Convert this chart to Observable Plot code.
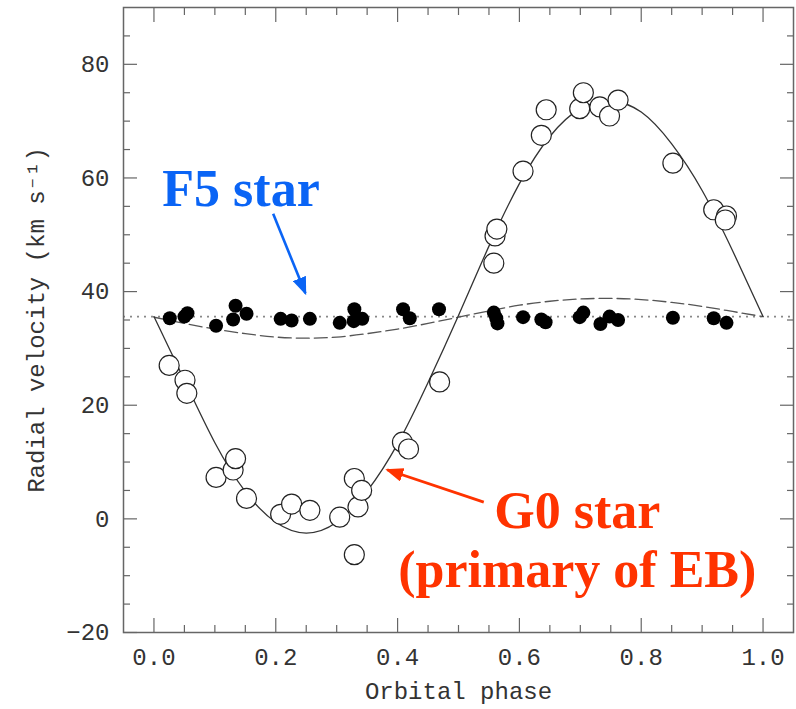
<!DOCTYPE html>
<html><head><meta charset="utf-8">
<script src="https://cdn.jsdelivr.net/npm/d3@7"></script>
<script src="https://cdn.jsdelivr.net/npm/@observablehq/plot@0.6"></script>
<style>html,body{margin:0;padding:0;background:#fff}#chart svg{display:block}</style>
</head><body><div id="chart"></div>
<script>
// ---- Data ----
// G0 star (primary of EB): open circles
const g0Phase = [0.025,0.051,0.054,0.102,0.130,0.134,0.152,0.208,0.226,0.256,0.305,0.329,0.335,0.341,0.329,0.408,0.418,0.469,0.558,0.560,0.563,0.606,0.636,0.644,0.699,0.705,0.732,0.748,0.762,0.852,0.919,0.940,0.938];
const g0Vel   = [27.0,24.4,22.1,7.3,8.6,10.6,3.6,0.8,2.6,1.5,0.3,7.1,2.1,5.0,-6.3,13.5,12.3,24.1,45.0,49.8,51.0,61.2,67.5,72.0,72.2,75.0,72.5,70.9,73.7,62.6,54.4,53.3,52.6];
// F5 star: filled dots
const f5Phase = [0.026,0.050,0.055,0.102,0.130,0.134,0.152,0.208,0.226,0.256,0.305,0.329,0.328,0.342,0.409,0.420,0.468,0.558,0.562,0.564,0.606,0.636,0.643,0.699,0.705,0.733,0.748,0.762,0.852,0.919,0.940];
const f5Vel   = [35.3,35.6,36.2,34.0,35.1,37.5,36.1,35.2,34.9,35.2,34.5,36.9,34.8,35.2,36.9,35.3,36.9,36.3,35.3,34.4,35.5,35.1,34.6,35.5,36.3,34.3,35.6,35.0,35.4,35.3,34.5];
// Model curves, read at phase steps of 0.05
const curvePhase = [0,0.05,0.10,0.15,0.20,0.25,0.30,0.35,0.40,0.45,0.50,0.55,0.60,0.65,0.70,0.75,0.80,0.85,0.90,0.95,1.00];
const g0Model = [35.6,24.4,13.4,4.8,-0.6,-2.5,-0.6,4.9,13.2,24.0,35.8,48.0,59.0,67.3,72.2,73.5,71.6,66.0,57.8,47.2,35.6];
const f5Model = [35.5,34.4,33.4,32.6,32.0,31.8,32.0,32.6,33.4,34.4,35.5,36.6,37.6,38.3,38.7,38.8,38.6,38.1,37.4,36.5,35.6];
const systemicVel = [35.6];
// Axis ticks
const xMajor = [0,0.2,0.4,0.6,0.8,1.0];
const xMinor = [0.05,0.1,0.15,0.25,0.3,0.35,0.45,0.5,0.55,0.65,0.7,0.75,0.85,0.9,0.95];
const yMajor = [-20,0,20,40,60,80];
const yMinor = [-15,-10,-5,5,10,15,25,30,35,45,50,55,65,70,75,85];
const xLabel = "Orbital phase";
const yLabel = "Radial velocity (km s\u207B\u00B9)";
// Annotations
const f5Text = ["F5 star"];
const g0Text = ["G0 star"];
const g0Text2 = ["(primary of EB)"];

const g0 = g0Phase.map((p,i)=>({phase:p, v:g0Vel[i]}));
const f5 = f5Phase.map((p,i)=>({phase:p, v:f5Vel[i]}));
const g0Curve = curvePhase.map((p,i)=>({phase:p, v:g0Model[i]}));
const f5Curve = curvePhase.map((p,i)=>({phase:p, v:f5Model[i]}));

const axisColor = "#666";
const annFont = "'Liberation Serif', 'Times New Roman', serif";
const blue = "#0a64f5", red = "#ff3300";

const plot = Plot.plot({
  width: 796, height: 709,
  marginLeft: 123, marginRight: 3, marginTop: 7, marginBottom: 77,
  x: {domain: [-0.05, 1.05]},
  y: {domain: [-20, 90]},
  style: {fontFamily: "'Liberation Mono', 'Courier New', monospace", fontSize: "24px", color: "#333", background: "#fff"},
  marks: [
    // inward ticks on all four sides
    Plot.axisX({anchor: "bottom", ticks: xMajor, tickSize: -14, tickFormat: () => "", label: null, stroke: axisColor, strokeWidth: 1.2}),
    Plot.axisX({anchor: "bottom", ticks: xMinor, tickSize: -7, tickFormat: () => "", label: null, stroke: axisColor, strokeWidth: 1.2}),
    Plot.axisX({anchor: "top", ticks: xMajor, tickSize: -14, tickFormat: () => "", label: null, stroke: axisColor, strokeWidth: 1.2}),
    Plot.axisX({anchor: "top", ticks: xMinor, tickSize: -7, tickFormat: () => "", label: null, stroke: axisColor, strokeWidth: 1.2}),
    Plot.axisY({anchor: "left", ticks: yMajor, tickSize: -14, tickFormat: () => "", label: null, stroke: axisColor, strokeWidth: 1.2}),
    Plot.axisY({anchor: "left", ticks: yMinor, tickSize: -7, tickFormat: () => "", label: null, stroke: axisColor, strokeWidth: 1.2}),
    Plot.axisY({anchor: "right", ticks: yMajor, tickSize: -14, tickFormat: () => "", label: null, stroke: axisColor, strokeWidth: 1.2}),
    Plot.axisY({anchor: "right", ticks: yMinor, tickSize: -7, tickFormat: () => "", label: null, stroke: axisColor, strokeWidth: 1.2}),
    // tick labels
    Plot.axisX({anchor: "bottom", ticks: xMajor, tickSize: 0, tickPadding: 15, tickFormat: d3.format(".1f"), label: null, fill: "#333"}),
    Plot.axisY({anchor: "left", ticks: yMajor, tickSize: 0, tickPadding: 14, tickFormat: d3.format("d"), label: null, fill: "#333"}),
    Plot.text([xLabel], {frameAnchor: "bottom", dy: 66, textAnchor: "middle", fill: "#333", fontSize: 24}),
    Plot.text([yLabel], {frameAnchor: "left", dx: -87, rotate: -90, textAnchor: "middle", lineAnchor: "middle", fill: "#333", fontSize: 24}),
    // systemic velocity (dotted)
    Plot.ruleY(systemicVel, {stroke: "#888", strokeWidth: 1.6, strokeDasharray: "2,5"}),
    // model curves
    Plot.line(f5Curve, {x: "phase", y: "v", curve: "natural", stroke: "#555", strokeWidth: 1.3, strokeDasharray: "13,5"}),
    Plot.line(g0Curve, {x: "phase", y: "v", curve: "natural", stroke: "#333", strokeWidth: 1.3}),
    // observations
    Plot.dot(g0, {x: "phase", y: "v", r: 10, fill: "#fff", stroke: "#222", strokeWidth: 1.2}),
    Plot.dot(f5, {x: "phase", y: "v", r: 7, fill: "#000", stroke: "none"}),
    Plot.frame({stroke: axisColor, strokeWidth: 1.5}),
    // annotations
    Plot.link([0], {x1: 0.1957, y1: 53.7, x2: 0.2487, y2: 39.7, stroke: blue, strokeWidth: 2.6}),
    Plot.link([0], {x1: 0.5415, y1: 2.94, x2: 0.3829, y2: 8.64, stroke: red, strokeWidth: 2.8}),
    Plot.text(f5Text, {x: 0.0138, y: 55.0, text: d => d, textAnchor: "start", lineAnchor: "bottom", fill: blue, fontFamily: annFont, fontWeight: "bold", fontSize: 52}),
    Plot.text(g0Text, {x: 0.695, y: -1.57, text: d => d, textAnchor: "middle", lineAnchor: "bottom", fill: red, fontFamily: annFont, fontWeight: "bold", fontSize: 52}),
    Plot.text(g0Text2, {x: 0.695, y: -12.0, text: d => d, textAnchor: "middle", lineAnchor: "bottom", fill: red, fontFamily: annFont, fontWeight: "bold", fontSize: 52})
  ]
});

const chart = document.getElementById("chart");
chart.appendChild(plot);

// filled triangular arrowheads
const ns = "http://www.w3.org/2000/svg";
const svg = plot.tagName.toLowerCase() === "svg" ? plot : plot.querySelector("svg");
const defs = document.createElementNS(ns, "defs");
function addMarker(id, color) {
  const m = document.createElementNS(ns, "marker");
  m.setAttribute("id", id);
  m.setAttribute("viewBox", "-16 -7 18 14");
  m.setAttribute("markerWidth", 18);
  m.setAttribute("markerHeight", 14);
  m.setAttribute("markerUnits", "userSpaceOnUse");
  m.setAttribute("orient", "auto");
  const p = document.createElementNS(ns, "path");
  p.setAttribute("d", "M-16,-7L2,0L-16,7Z");
  p.setAttribute("fill", color);
  p.setAttribute("stroke", "none");
  m.appendChild(p);
  defs.appendChild(m);
}
addMarker("mBlue", blue);
addMarker("mRed", red);
svg.insertBefore(defs, svg.firstChild);
const colorToMarker = {[blue]: "mBlue", [red]: "mRed"};
svg.querySelectorAll('g[aria-label="link"]').forEach(g => {
  const id = colorToMarker[g.getAttribute("stroke")];
  if (id) g.querySelectorAll("path").forEach(p => p.setAttribute("marker-end", `url(#${id})`));
});
</script>
</body></html>
